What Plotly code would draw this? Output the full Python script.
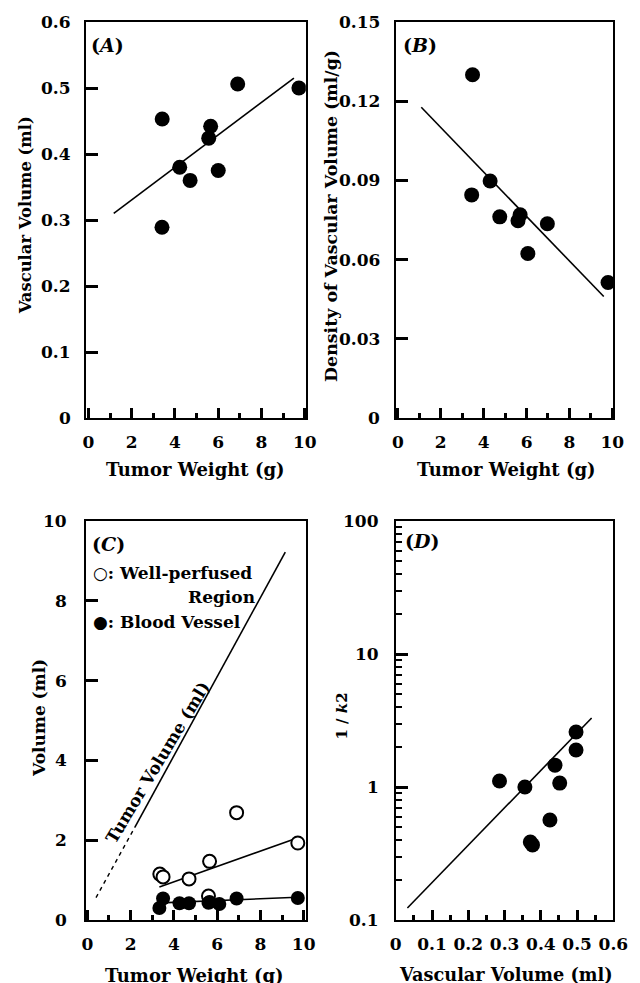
import plotly.graph_objects as go

# ---------------- data ----------------
# Panel A: tumor weight (g) vs vascular volume (ml)
a_weight = [3.40, 3.41, 4.22, 4.70, 5.56, 5.65, 6.00, 6.90, 9.73]
a_vasc = [0.289, 0.453, 0.380, 0.360, 0.424, 0.442, 0.375, 0.506, 0.500]
a_fit_x = [1.17, 9.50]
a_fit_y = [0.310, 0.515]
a_yticks = [0, 0.1, 0.2, 0.3, 0.4, 0.5, 0.6]
a_ytext = ["0", "0.1", "0.2", "0.3", "0.4", "0.5", "0.6"]

# Panel B: tumor weight (g) vs density of vascular volume (ml/g)
b_weight = [3.48, 3.44, 4.30, 4.75, 5.60, 5.70, 6.06, 6.97, 9.80]
b_dens = [0.130, 0.0845, 0.0898, 0.0762, 0.0747, 0.0770, 0.0623, 0.0736, 0.0513]
b_fit_x = [1.09, 9.60]
b_fit_y = [0.1177, 0.0460]
b_yticks = [0, 0.03, 0.06, 0.09, 0.12, 0.15]
b_ytext = ["0", "0.03", "0.06", "0.09", "0.12", "0.15"]

# Panel C: volumes (ml)
c_open_x = [3.35, 3.50, 4.70, 5.60, 5.65, 6.90, 9.73]
c_open_y = [1.15, 1.08, 1.03, 0.60, 1.47, 2.69, 1.93]
c_fill_x = [3.33, 3.50, 4.26, 4.70, 5.60, 5.65, 6.10, 6.90, 9.73]
c_fill_y = [0.30, 0.54, 0.42, 0.42, 0.43, 0.45, 0.40, 0.54, 0.55]
c_wp_fit_x = [3.33, 9.77]
c_wp_fit_y = [0.83, 2.07]
c_bv_fit_x = [3.40, 9.70]
c_bv_fit_y = [0.43, 0.57]
c_tv_dash_x = [0.40, 2.20]
c_tv_dash_y = [0.56, 2.33]
c_tv_solid_x = [2.20, 9.15]
c_tv_solid_y = [2.33, 9.22]
c_yticks = [0, 2, 4, 6, 8, 10]
c_ytext = ["0", "2", "4", "6", "8", "10"]

# Panel D: vascular volume (ml) vs 1/k2
d_vasc = [0.286, 0.356, 0.371, 0.377, 0.425, 0.439, 0.452, 0.497, 0.497]
d_inv_k2 = [1.11, 1.00, 0.386, 0.367, 0.565, 1.46, 1.07, 1.90, 2.59]
d_fit_x = [0.032, 0.540]
d_fit_y = [0.123, 3.30]
d_yticks = [0.1, 1, 10, 100]
d_ytext = ["0.1", "1", "10", "100"]
d_xticks = [0, 0.1, 0.2, 0.3, 0.4, 0.5, 0.6]
d_xtext = ["0", "0.1", "0.2", "0.3", "0.4", "0.5", "0.6"]

FONT = "DejaVu Serif"
W, H = 640, 983


def px(x):
    return x / W


def py(y):
    return 1 - y / H


fig = go.Figure()

dot = dict(color="black", size=15)
line_style = dict(color="black", width=1.6)

# A
fig.add_trace(go.Scatter(x=a_weight, y=a_vasc, mode="markers", marker=dot, xaxis="x", yaxis="y"))
fig.add_trace(go.Scatter(x=a_fit_x, y=a_fit_y, mode="lines", line=line_style, xaxis="x", yaxis="y"))
# B
fig.add_trace(go.Scatter(x=b_weight, y=b_dens, mode="markers", marker=dot, xaxis="x2", yaxis="y2"))
fig.add_trace(go.Scatter(x=b_fit_x, y=b_fit_y, mode="lines", line=line_style, xaxis="x2", yaxis="y2"))
# C
fig.add_trace(go.Scatter(x=c_tv_dash_x, y=c_tv_dash_y, mode="lines",
                         line=dict(color="black", width=1.4, dash="4px,4px"), xaxis="x3", yaxis="y3"))
fig.add_trace(go.Scatter(x=c_tv_solid_x, y=c_tv_solid_y, mode="lines", line=line_style, xaxis="x3", yaxis="y3"))
fig.add_trace(go.Scatter(x=c_wp_fit_x, y=c_wp_fit_y, mode="lines", line=line_style, xaxis="x3", yaxis="y3"))
fig.add_trace(go.Scatter(x=c_bv_fit_x, y=c_bv_fit_y, mode="lines", line=line_style, xaxis="x3", yaxis="y3"))
fig.add_trace(go.Scatter(x=c_open_x, y=c_open_y, mode="markers",
                         marker=dict(color="white", size=13, line=dict(color="black", width=2)),
                         xaxis="x3", yaxis="y3"))
fig.add_trace(go.Scatter(x=c_fill_x, y=c_fill_y, mode="markers",
                         marker=dict(color="black", size=14), xaxis="x3", yaxis="y3"))
# D
fig.add_trace(go.Scatter(x=d_vasc, y=d_inv_k2, mode="markers", marker=dot, xaxis="x4", yaxis="y4"))
fig.add_trace(go.Scatter(x=d_fit_x, y=d_fit_y, mode="lines", line=line_style, xaxis="x4", yaxis="y4"))

tickfont = dict(family=FONT, size=17, color="black", weight=700)


def xax(domain, rng, dtick, minor_dtick, anchor, **kw):
    d = dict(domain=domain, range=rng, dtick=dtick, showline=True, linewidth=2,
             linecolor="black", mirror=True, ticks="inside", ticklen=10, tickwidth=2.5,
             tickcolor="black", showgrid=False, zeroline=False, tickfont=tickfont,
             anchor=anchor, fixedrange=True, ticklabelstandoff=8,
             minor=dict(dtick=minor_dtick, ticks="inside", ticklen=5, tickwidth=2.5,
                        tickcolor="black", showgrid=False))
    d.update(kw)
    return d


def yax(domain, rng, tickvals, anchor, **kw):
    # tick labels are placed as annotations below (keeps the inside tick marks visible)
    d = dict(domain=domain, range=rng, tickmode="array", tickvals=tickvals, showline=True,
             linewidth=2, linecolor="black", mirror=True, ticks="inside", ticklen=12,
             tickwidth=2.5, tickcolor="black", showgrid=False, zeroline=False,
             showticklabels=False, anchor=anchor, fixedrange=True)
    d.update(kw)
    return d


xA = [px(83), px(310)]
xB = [px(403), px(628)]
yTop = [py(418), py(22)]
yBot = [py(920), py(521)]

fig.update_layout(
    width=W, height=H, margin=dict(l=0, r=0, t=0, b=0),
    paper_bgcolor="white", plot_bgcolor="white", showlegend=False,
    xaxis=xax(xA, [-0.1, 10.05], 2, 1, "y"),
    yaxis=yax(yTop, [0, 0.6], a_yticks, "x"),
    xaxis2=xax(xB, [-0.1, 10.05], 2, 1, "y2"),
    yaxis2=yax(yTop, [0, 0.15], b_yticks, "x2"),
    xaxis3=xax(xA, [-0.05, 10.1], 2, 1, "y3"),
    yaxis3=yax(yBot, [0, 10], c_yticks, "x3"),
    xaxis4=xax(xB, [0, 0.6], 0.1, 0.05, "y4", tickmode="array",
               tickvals=d_xticks, ticktext=d_xtext),
    yaxis4=yax(yBot, [-1, 2], d_yticks, "x4", type="log",
               minor=dict(dtick="D1", ticks="inside", ticklen=6, tickwidth=2,
                          tickcolor="black", showgrid=False)),
)

ann = []


def note(text, x, y, angle=0, size=18, xanchor="center", **kw):
    ann.append(dict(text=text, x=px(x), y=py(y), xref="paper", yref="paper",
                    showarrow=False, textangle=angle, xanchor=xanchor, yanchor="middle",
                    font=dict(family=FONT, size=size, color="black", weight=700), **kw))


def ylabels(vals, texts, yref, right_px, log=False):
    import math
    for v, t in zip(vals, texts):
        ann.append(dict(text=t, x=px(right_px), y=(math.log10(v) if log else v),
                        xref="paper", yref=yref, showarrow=False, xanchor="right",
                        yanchor="middle", font=tickfont))


# y tick labels
ylabels(a_yticks, a_ytext, "y", 69)
ylabels(b_yticks, b_ytext, "y2", 389)
ylabels(c_yticks, c_ytext, "y3", 65)
ylabels(d_yticks, d_ytext, "y4", 388, log=True)

# axis titles
note("Tumor Weight (g)", 196, 469)
note("Tumor Weight (g)", 517, 469)
note("Tumor Weight (g)", 195, 975)
note("Vascular Volume (ml)", 517, 974, size=17.7)
note("Vascular Volume (ml)", 20, 215, angle=-90, size=16.4)
note("Density of Vascular Volume (ml/g)", 336, 216, angle=-90, size=17.4)
note("Volume (ml)", 34, 718, angle=-90, size=17)
note("1 / <i>k</i>2", 347, 716, angle=-90, size=15)

# panel labels
note("(<i>A</i>)", 105, 45, size=19)
note("(<i>B</i>)", 428, 45, size=19)
note("(<i>C</i>)", 106, 544, size=19)
note("(<i>D</i>)", 430, 541, size=19)

# legend in C
note("○: Well-perfused", 88, 573, xanchor="left", size=17)
note("Region", 259, 597, xanchor="right", size=17)
note("●: Blood Vessel", 88, 622, xanchor="left", size=17)

# Tumor Volume label along the line
note("Tumor Volume (ml)", 157, 762, angle=-59, size=17)

fig.update_layout(annotations=ann)
fig.write_html("out.html", config={"displayModeBar": False},
               post_script="document.body.style.margin='0';")
